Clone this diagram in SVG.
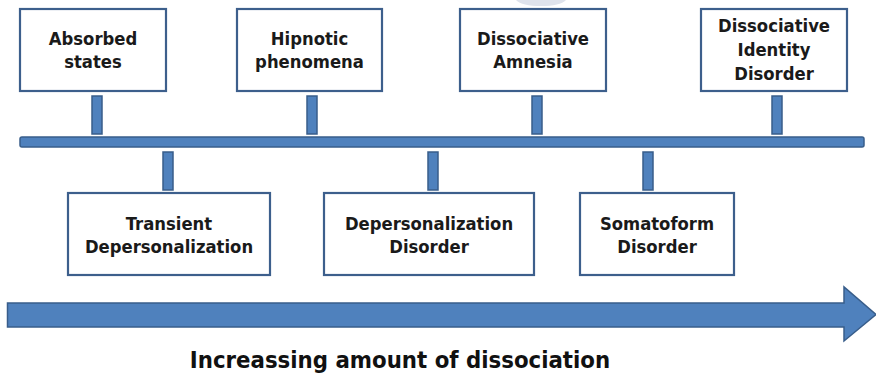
<svg xmlns="http://www.w3.org/2000/svg" width="876" height="373" viewBox="0 0 876 373">
<style>
.box{fill:#ffffff;stroke:#3d5f8c;stroke-width:2.2}
.bar{fill:#4f81bd;stroke:#385d8a;stroke-width:1.5}
.lbl{font-family:"DejaVu Sans Condensed","DejaVu Sans",sans-serif;font-stretch:condensed;font-weight:bold;font-size:18.3px;fill:#1a1a1a;text-anchor:middle}
.title{font-family:"DejaVu Sans Condensed","DejaVu Sans",sans-serif;font-stretch:condensed;font-weight:bold;font-size:23.7px;fill:#111111;text-anchor:middle}
</style>
<rect width="876" height="373" fill="#ffffff"/>
<path d="M516,0 L566,0 Q560,6 541,6 Q522,6 516,0 Z" fill="#dfe3ec"/>
<g id="connectors">
<rect class="bar" x="20" y="137" width="844" height="10" rx="2"/>
<rect class="bar" x="92" y="96" width="10" height="38"/>
<rect class="bar" x="307" y="96" width="10" height="38"/>
<rect class="bar" x="532" y="96" width="10" height="38"/>
<rect class="bar" x="772" y="96" width="10" height="38"/>
<rect class="bar" x="163" y="152" width="10" height="38"/>
<rect class="bar" x="428" y="152" width="10" height="38"/>
<rect class="bar" x="643" y="152" width="10" height="38"/>
<path class="bar" d="M7.5,303 L844,303 L844,287 L876,314.5 L844,341 L844,327 L7.5,327 Z"/>
</g>
<g id="absorbed">
<rect class="box" x="20" y="9" width="146" height="82"/>
<text class="lbl" x="93" y="45">Absorbed</text>
<text class="lbl" x="93" y="68">states</text>
</g>
<g id="hipnotic">
<rect class="box" x="237" y="9" width="145" height="82"/>
<text class="lbl" x="309.5" y="45">Hipnotic</text>
<text class="lbl" x="309.5" y="68">phenomena</text>
</g>
<g id="amnesia">
<rect class="box" x="460" y="9" width="146" height="82"/>
<text class="lbl" x="533" y="45">Dissociative</text>
<text class="lbl" x="533" y="68">Amnesia</text>
</g>
<g id="did">
<rect class="box" x="701" y="9" width="146" height="82"/>
<text class="lbl" x="774" y="32">Dissociative</text>
<text class="lbl" x="774" y="56">Identity</text>
<text class="lbl" x="774" y="80">Disorder</text>
</g>
<g id="transient">
<rect class="box" x="68" y="193" width="202" height="82"/>
<text class="lbl" x="169" y="230">Transient</text>
<text class="lbl" x="169" y="253">Depersonalization</text>
</g>
<g id="depersonalization">
<rect class="box" x="324" y="193" width="210" height="82"/>
<text class="lbl" x="429" y="230">Depersonalization</text>
<text class="lbl" x="429" y="253">Disorder</text>
</g>
<g id="somatoform">
<rect class="box" x="580" y="193" width="154" height="82"/>
<text class="lbl" x="657" y="230">Somatoform</text>
<text class="lbl" x="657" y="253">Disorder</text>
</g>
<text class="title" x="400" y="368">Increassing amount of dissociation</text>
</svg>
